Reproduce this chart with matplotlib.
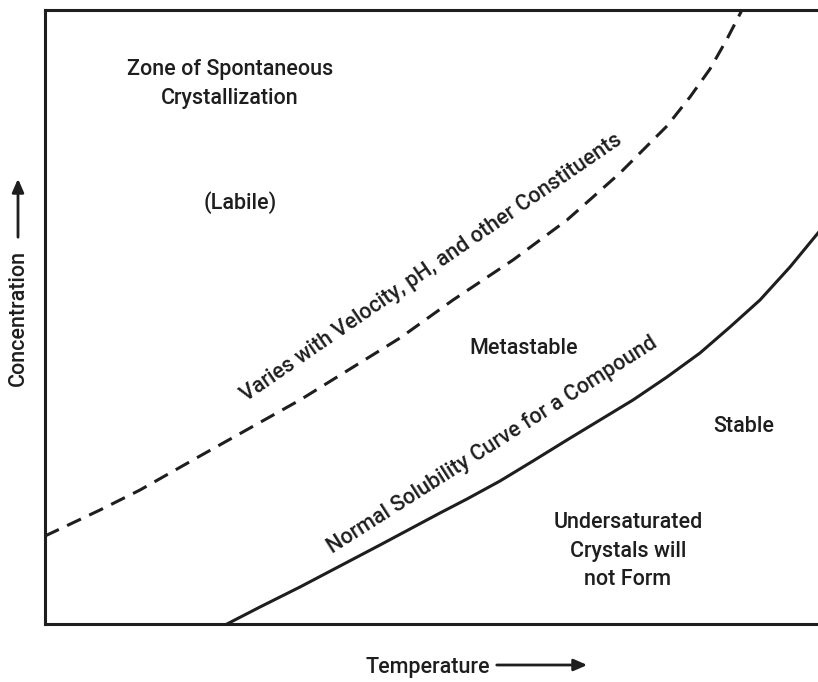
import matplotlib.pyplot as plt
from matplotlib.patches import FancyArrowPatch

# curves (chart units: temperature 0..773, concentration 0..614)
solub_T = [182, 215, 255, 295, 335, 365, 395, 422, 455, 488, 522, 555, 588, 622, 655, 685, 715, 745, 773]
solub_C = [0, 17, 37, 58, 79, 95, 111, 125, 143, 163, 184, 204, 224, 247, 271, 297, 324, 357, 391]

super_T = [0, 55, 95, 155, 205, 255, 305, 355, 408, 438, 468, 495, 522, 548, 575, 598, 622, 645, 665, 682, 697]
super_C = [88, 114, 134, 168, 196, 224, 255, 286, 324, 344, 364, 384, 404, 427, 451, 474, 498, 527, 555, 585, 614]

plt.rcParams['font.family'] = ['Roboto', 'Liberation Sans', 'DejaVu Sans']
ink = '#1e1e1e'

W, H = 818, 682
fig = plt.figure(figsize=(W / 100, H / 100), dpi=100)
# axes box: left 45px, top 10px, bottom 624px, runs off the right edge
ax = fig.add_axes([45 / W, 1 - 624 / H, (W - 45) / W, (624 - 10) / H])
ax.set_xlim(0, 773)
ax.set_ylim(0, 614)
ax.set_xticks([])
ax.set_yticks([])
ax.spines['right'].set_visible(False)
for s in ['left', 'top', 'bottom']:
    ax.spines[s].set_linewidth(2.2)
    ax.spines[s].set_color(ink)

ax.plot(solub_T, solub_C, '-', color=ink, lw=2.2, solid_joinstyle='round')
ax.plot(super_T, super_C, '--', color=ink, lw=2.2, dashes=(5, 3))

def px(x, y):
    # pixel position -> chart units
    return x - 45, 624 - y

fs = 15.5
kw = dict(ha='center', va='center', fontsize=fs, color=ink, fontweight='medium')
ax.text(*px(230, 84), 'Zone of Spontaneous\nCrystallization', linespacing=1.5, **kw)
ax.text(*px(240, 203), '(Labile)', **kw)
ax.text(*px(524, 348), 'Metastable', **kw)
ax.text(*px(744, 427), 'Stable', **kw)
ax.text(*px(628, 551), 'Undersaturated\nCrystals will\nnot Form', linespacing=1.45, **kw)
ax.text(*px(432, 268), 'Varies with Velocity, pH, and other Constituents',
        rotation=34.5, rotation_mode='anchor', **kw)
ax.text(*px(492, 445), 'Normal Solubility Curve for a Compound',
        rotation=32.5, rotation_mode='anchor', **kw)

# axis labels with arrows
fig.text(428 / W, 1 - 667 / H, 'Temperature', **kw)
fig.add_artist(FancyArrowPatch(
    (494 / W, 1 - 665 / H), (590 / W, 1 - 665 / H), transform=fig.transFigure,
    arrowstyle='-|>,head_length=8,head_width=3.5', color=ink, lw=2, mutation_scale=1))
fig.text(18 / W, 1 - 318 / H, 'Concentration', rotation=90, **kw)
fig.add_artist(FancyArrowPatch(
    (18 / W, 1 - 240 / H), (18 / W, 1 - 176 / H), transform=fig.transFigure,
    arrowstyle='-|>,head_length=8,head_width=3.5', color=ink, lw=2, mutation_scale=1))

fig.savefig('out.png', dpi=100)
